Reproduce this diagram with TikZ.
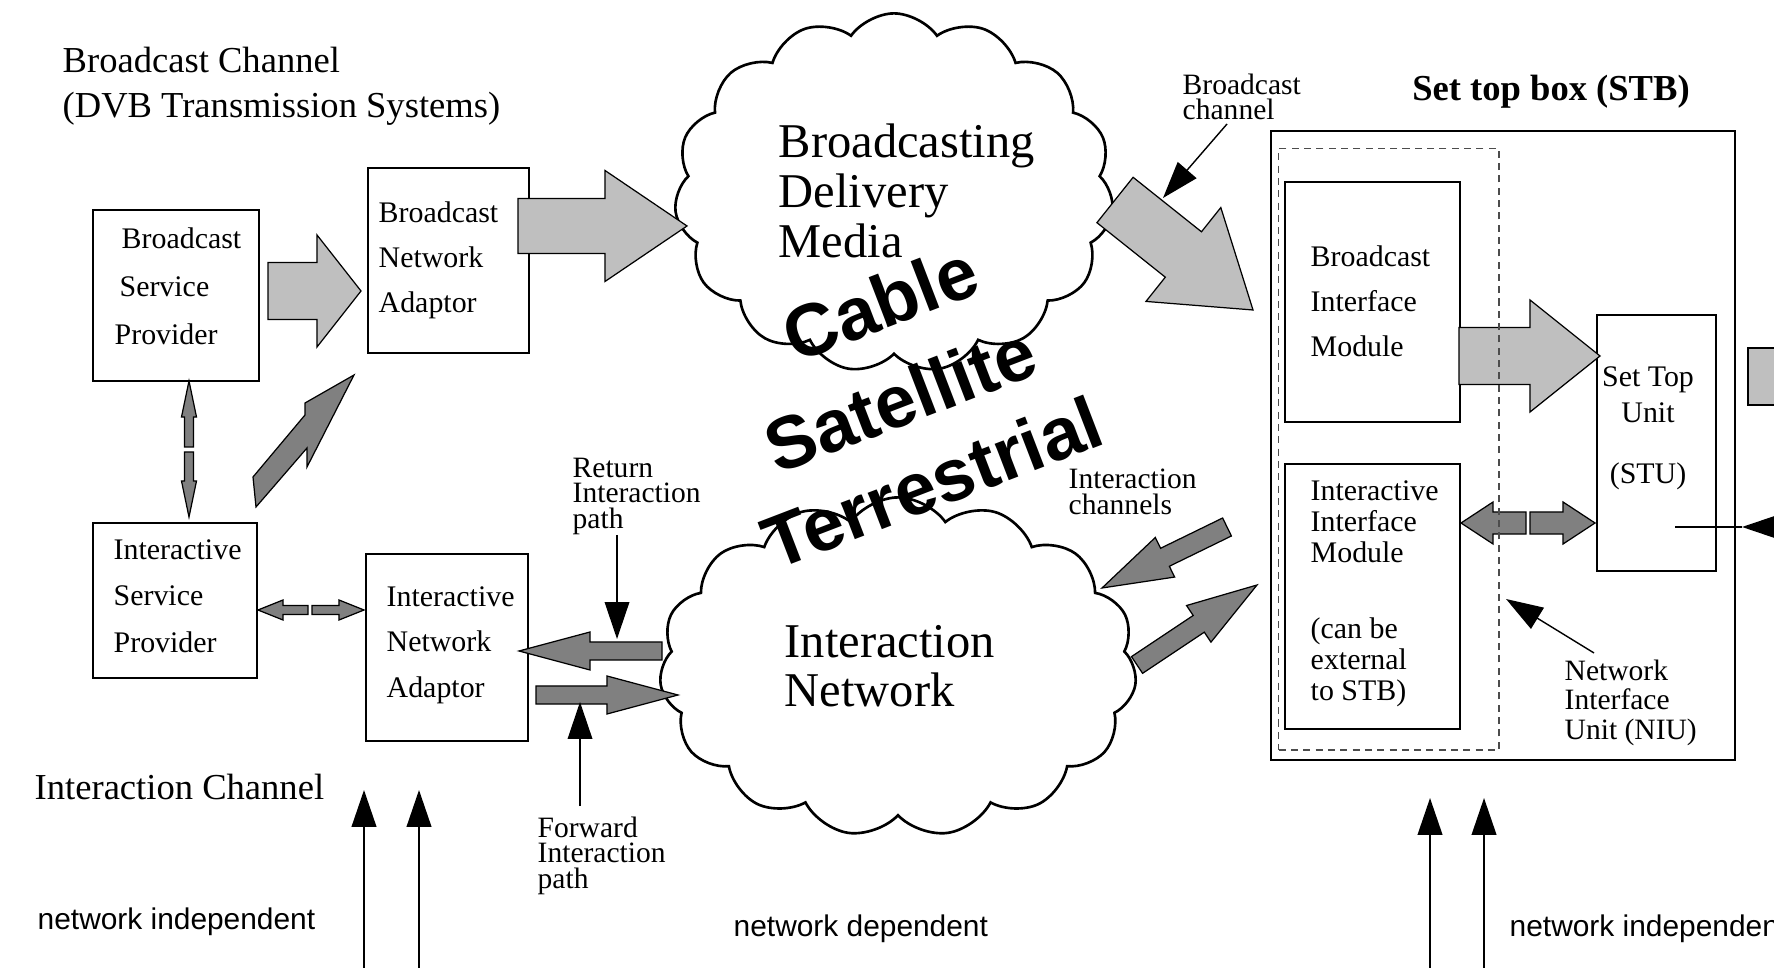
\documentclass[tikz,border=0pt]{standalone}
\usepackage{fontspec}
\setmainfont{Liberation Serif}
\setsansfont{Liberation Sans}
\usetikzlibrary{calc,shapes.symbols,arrows.meta}

% fat arrow: style, tail, tip, half shaft, half head, head length
\newcommand\fatarrow[6]{%
  \coordinate (hb) at ($(#3)!#6!(#2)$);
  \draw[#1] ($(#2)!#4!90:(#3)$) -- ($(hb)!#4!-90:(#2)$)
    -- ($(hb)!#5!-90:(#2)$) -- (#3) -- ($(hb)!#5!90:(#2)$)
    -- ($(hb)!#4!90:(#2)$) -- ($(#2)!#4!-90:(#3)$) -- cycle;}

\begin{document}
\begin{tikzpicture}[x=0.01cm, y=-0.01cm,
  box/.style={draw, line width=0.45pt, inner sep=0, anchor=north west},
  txt/.style={inner sep=0, anchor=north west, align=left},
  light/.style={draw, line width=0.35pt, fill=gray!50},
  dark/.style={draw, line width=0.35pt, fill=gray},
  ptr/.style={line width=0.4pt, -{Triangle[length=10.5pt,width=7pt]}},
  puff/.style={cloud, draw, line width=0.75pt, cloud puffs=15,
    cloud puff arc=110, cloud ignores aspect},
  big/.style={font=\sffamily\bfseries\fontsize{21}{24}\selectfont, rotate=21}]
  \useasboundingbox (0,0) rectangle (1774,968);
  \clip (0,0) rectangle (1774,968);
  \fill[white] (0,0) rectangle (1774,968);

  % clouds
  \node[puff, minimum width=4.39cm, minimum height=3.59cm] (media) at (894,193) {};
  \node[puff, minimum width=4.77cm, minimum height=3.39cm] (inet) at (898,667) {};

  % boxes
  \node[box, minimum width=1.66cm, minimum height=1.71cm] (bsp) at (92,209) {};
  \node[box, minimum width=1.61cm, minimum height=1.85cm] (bna) at (367,167) {};
  \node[box, minimum width=1.64cm, minimum height=1.55cm] (isp) at (92,522) {};
  \node[box, minimum width=1.62cm, minimum height=1.87cm] (ina) at (365,553) {};
  \node[box, line width=0.6pt, minimum width=4.64cm, minimum height=6.29cm] (stb) at (1270,130) {};
  \node[box, minimum width=1.75cm, minimum height=2.40cm] (bim) at (1284,181) {};
  \node[box, minimum width=1.75cm, minimum height=2.65cm] (iim) at (1284,463) {};
  \node[box, minimum width=1.19cm, minimum height=2.56cm] (stu) at (1596,314) {};

  % broadcast path
  \coordinate (bsp-out) at (268,291);
  \coordinate (bna-in) at (361,291);
  \fatarrow{light}{bsp-out}{bna-in}{0.285cm}{0.56cm}{0.44cm}
  \coordinate (bna-out) at (518,226);
  \coordinate (media-in) at (687,226);
  \fatarrow{light}{bna-out}{media-in}{0.275cm}{0.555cm}{0.82cm}
  \coordinate (media-out) at (1115,200);
  \coordinate (stb-in) at (1253,310);
  \fatarrow{light}{media-out}{stb-in}{0.29cm}{0.60cm}{0.89cm}
  \coordinate (bim-out) at (1459,356);
  \coordinate (stu-in) at (1600,356);
  \fatarrow{light}{bim-out}{stu-in}{0.285cm}{0.56cm}{0.70cm}
  \draw[light] (1748,348) rectangle (1800,405);

  % interaction path
  \draw[dark] (253,477) -- (305,415) -- (305,403) -- (354,375)
    -- (307,467) -- (307,448) -- (256,507) -- cycle;
  \coordinate (v-up) at (189,447);
  \coordinate (v-dn) at (189,452);
  \coordinate (bsp-s) at (189,381);
  \coordinate (isp-n) at (189,517);
  \fatarrow{dark}{v-up}{bsp-s}{0.045cm}{0.075cm}{0.36cm}
  \fatarrow{dark}{v-dn}{isp-n}{0.045cm}{0.075cm}{0.36cm}
  \coordinate (h-l) at (308,610);
  \coordinate (h-r) at (312,610);
  \coordinate (isp-e) at (258,610);
  \coordinate (ina-w) at (364,610);
  \fatarrow{dark}{h-l}{isp-e}{0.045cm}{0.10cm}{0.25cm}
  \fatarrow{dark}{h-r}{ina-w}{0.045cm}{0.10cm}{0.25cm}
  \coordinate (ret-a) at (662,651);
  \coordinate (ret-b) at (519,651);
  \fatarrow{dark}{ret-a}{ret-b}{0.09cm}{0.19cm}{0.71cm}
  \coordinate (fwd-a) at (536,695);
  \coordinate (fwd-b) at (678,695);
  \fatarrow{dark}{fwd-a}{fwd-b}{0.09cm}{0.19cm}{0.71cm}
  \coordinate (ich-a) at (1227,527);
  \coordinate (ich-b) at (1102,588);
  \fatarrow{dark}{ich-a}{ich-b}{0.10cm}{0.22cm}{0.70cm}
  \coordinate (och-a) at (1137,665);
  \coordinate (och-b) at (1257,585);
  \fatarrow{dark}{och-a}{och-b}{0.10cm}{0.22cm}{0.70cm}
  \coordinate (s-l) at (1526,523);
  \coordinate (s-r) at (1530,523);
  \coordinate (iim-e) at (1461,523);
  \coordinate (stu-w) at (1595,523);
  \fatarrow{dark}{s-l}{iim-e}{0.11cm}{0.21cm}{0.32cm}
  \fatarrow{dark}{s-r}{stu-w}{0.11cm}{0.21cm}{0.32cm}

  % NIU frame
  \node[box, dash pattern=on 2pt off 1.5pt, draw=black!70, line width=0.4pt,
    minimum width=2.2cm, minimum height=6.01cm] (niu) at (1278,148) {};

  % pointers
  \coordinate (ret-t) at (617,535);
  \coordinate (ret-h) at (617,639);
  \draw[ptr] (ret-t) -- (ret-h);
  \coordinate (fwd-t) at (580,806);
  \coordinate (fwd-h) at (580,702);
  \draw[ptr] (fwd-t) -- (fwd-h);
  \coordinate (bch-t) at (1227,124);
  \coordinate (bch-h) at (1163,198);
  \draw[ptr] (bch-t) -- (bch-h);
  \coordinate (niu-t) at (1594,653);
  \coordinate (niu-h) at (1506,599);
  \draw[ptr] (niu-t) -- (niu-h);
  \coordinate (stu-mark) at (1675,527);
  \coordinate (stu-r) at (1742,527);
  \coordinate (stu-far) at (1800,527);
  \draw[line width=0.4pt] (stu-mark) -- (stu-r);
  \draw[ptr] (stu-far) -- (stu-r);
  \foreach \x/\y in {364/790,419/790,1430/798,1484/798} {
    \coordinate (up\x) at (\x,\y);
    \draw[ptr, line width=0.6pt] (\x,990) -- (up\x);
  }

  % texts
  \node[txt, font=\fontsize{10.4}{12.8}\selectfont] (title) at (62,46)
    {Broadcast Channel\\(DVB Transmission Systems)};
  \node[inner sep=0, anchor=west, font=\fontsize{10.4}{12.8}\selectfont] (ich-title) at (34,787)
    {Interaction Channel};
  \node[txt, font=\fontsize{8.5}{13.7}\selectfont] (bsp-txt) at (114,227)
    {\hspace*{2pt}Broadcast\\\hspace*{1.4pt}Service\\Provider};
  \node[txt, font=\fontsize{8.5}{12.8}\selectfont] (bna-txt) at (378,201)
    {Broadcast\\Network\\Adaptor};
  \node[txt, font=\fontsize{8.5}{13.2}\selectfont] (isp-txt) at (113,539)
    {Interactive\\Service\\Provider};
  \node[txt, font=\fontsize{8.5}{12.9}\selectfont] (ina-txt) at (386,586)
    {Interactive\\Network\\Adaptor};
  \node[txt, font=\fontsize{13.8}{14.2}\selectfont] (media-txt) at (778,123)
    {Broadcasting\\Delivery\\Media};
  \node[txt, font=\fontsize{13.8}{13.7}\selectfont] (inet-txt) at (784,625)
    {Interaction\\Network};
  \node[txt, font=\fontsize{8.5}{12.8}\selectfont] (bim-txt) at (1310,245)
    {Broadcast\\Interface\\Module};
  \node[txt, font=\fontsize{8.5}{8.8}\selectfont] (iim-txt) at (1310,480)
    {Interactive\\Interface\\Module\\[12.8pt](can be\\external\\to STB)};
  \node[inner sep=0, anchor=north, align=center, font=\fontsize{8.5}{10.2}\selectfont]
    (stu-txt) at (1648,366) {Set Top\\Unit\\[7.2pt](STU)};
  \node[inner sep=0, anchor=base, font=\bfseries\fontsize{10.4}{12}\selectfont]
    (stb-txt) at (1551,101) {Set top box (STB)};
  \node[txt, font=\fontsize{8.4}{7.1}\selectfont] (bch-txt) at (1182,73)
    {Broadcast\\channel};
  \node[txt, font=\fontsize{8.4}{7.25}\selectfont] (ret-txt) at (572,457)
    {Return\\Interaction\\path};
  \node[txt, font=\fontsize{8.4}{7.25}\selectfont] (fwd-txt) at (537,816)
    {Forward\\Interaction\\path};
  \node[txt, font=\fontsize{8.4}{7.4}\selectfont] (ich-txt) at (1068,468)
    {Interaction\\channels};
  \node[txt, font=\fontsize{8.4}{8.4}\selectfont] (niu-txt) at (1564,659)
    {Network\\Interface\\Unit (NIU)};
  \node[inner sep=0, anchor=west, font=\sffamily\fontsize{8.5}{10}\selectfont] (indep-l) at (37,922)
    {network independent};
  \node[inner sep=0, anchor=west, font=\sffamily\fontsize{8.5}{10}\selectfont] (dep) at (733,929)
    {network dependent};
  \node[inner sep=0, anchor=west, font=\sffamily\fontsize{8.5}{10}\selectfont] (indep-r) at (1509,929)
    {network independent};

  % delivery media
  \node[big] (cable) at (880,303) {Cable};
  \node[big] (sat) at (900,399) {Satellite};
  \node[big] (terr) at (932,482) {Terrestrial};
\end{tikzpicture}
\end{document}
